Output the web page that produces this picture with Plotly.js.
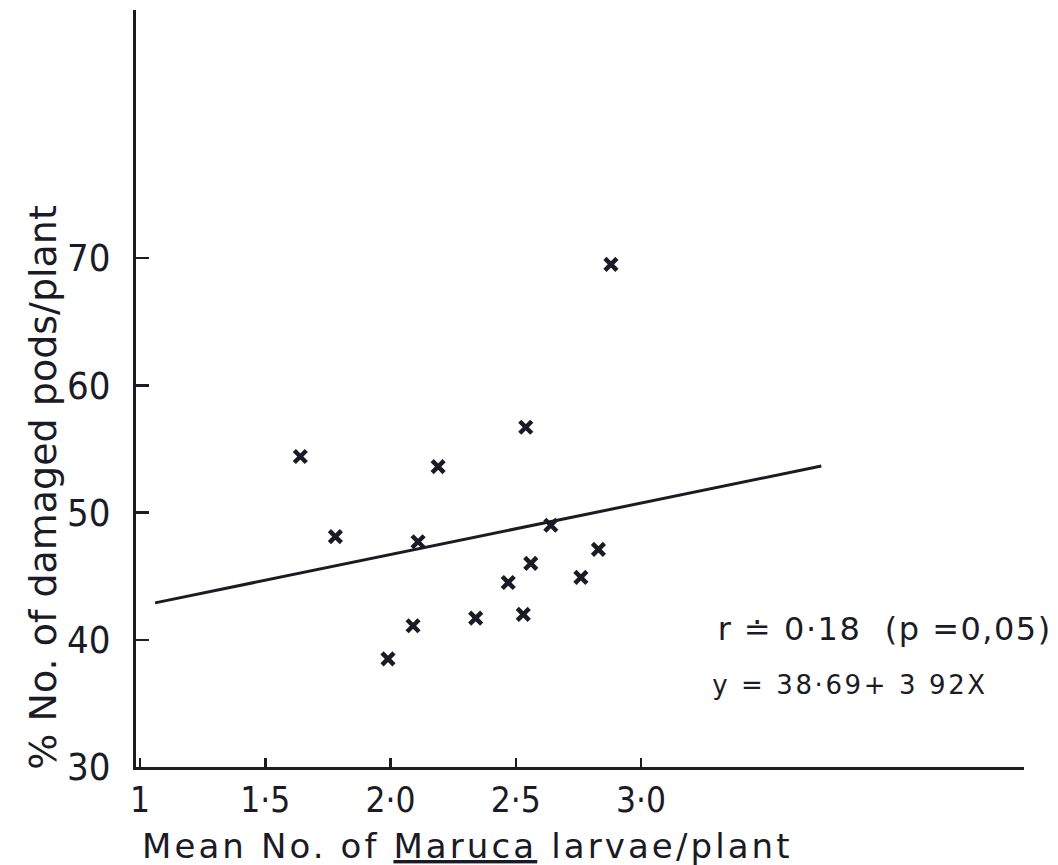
<!DOCTYPE html>
<html>
<head>
<meta charset="utf-8">
<script src="https://cdn.plot.ly/plotly-3.0.1.min.js"></script>
<style>
  html, body { margin: 0; padding: 0; background: #ffffff; }
  #chart { width: 1058px; height: 865px; }
  g.annotation[data-index="1"] text { letter-spacing: 3.1px; }
  g.annotation[data-index="2"] text { letter-spacing: 1.5px; }
  g.annotation[data-index="3"] text { letter-spacing: 2.6px; }
</style>
</head>
<body>
<div id="chart"></div>
<script>
// ---- data ----
const larvae = [1.64, 1.78, 2.11, 2.19, 2.54, 2.64, 2.83, 2.56, 2.47, 2.76, 2.09, 2.34, 2.53, 1.99, 2.88];
const damagedPods = [54.4, 48.1, 47.7, 53.6, 56.7, 49.0, 47.1, 46.0, 44.5, 44.9, 41.1, 41.7, 42.0, 38.5, 69.5];

const fitX = [1.06, 3.72];
const fitY = [42.9, 53.65];

const xTickVals = [1, 1.5, 2, 2.5, 3];
const xTickText = ["1", "1·5", "2·0", "2·5", "3·0"];
const yTickVals = [30, 40, 50, 60, 70];
const yTickText = ["30", "40", "50", "60", "70"];

const statLine1 = "r ≐ 0·18\u00a0\u00a0(p =0,05)";
const statLine2 = "y = 38·69+ 3 92X";
const xTitle = "Mean No. of <u>Maruca</u> larvae/plant";
const yTitle = "% No. of damaged pods/plant";

// ---- styling ----
const ink = "#1b1b26";
const NARROW = "'DejaVu Sans Condensed', 'Liberation Sans Narrow', 'DejaVu Sans', sans-serif";
const WIDE = "'DejaVu Sans', 'Liberation Sans', sans-serif";

const traces = [
  {
    x: fitX, y: fitY, type: "scatter", mode: "lines",
    line: { color: ink, width: 3 },
    hoverinfo: "skip", showlegend: false
  },
  {
    x: larvae, y: damagedPods, type: "scatter", mode: "markers",
    marker: { symbol: "x-thin-open", size: 12, color: ink, line: { color: ink, width: 4.5 } },
    showlegend: false
  }
];

const layout = {
  width: 1058, height: 865,
  margin: { l: 136, r: 34, t: 10, b: 98 },
  paper_bgcolor: "#ffffff", plot_bgcolor: "#ffffff",
  showlegend: false,
  font: { family: NARROW, color: ink },
  xaxis: {
    range: [0.984, 4.529],
    showgrid: false, zeroline: false,
    showline: true, linecolor: ink, linewidth: 3,
    ticks: "inside", ticklen: 9, tickwidth: 2.5, tickcolor: ink,
    tickvals: xTickVals, ticktext: xTickText,
    tickfont: { family: NARROW, size: 35, color: ink },
    ticklabelstandoff: 0
  },
  yaxis: {
    range: [30, 89.49],
    showgrid: false, zeroline: false,
    showline: true, linecolor: ink, linewidth: 3,
    ticks: "inside", ticklen: 13, tickwidth: 2.5, tickcolor: ink,
    tickvals: yTickVals, ticktext: yTickText,
    tickfont: { family: NARROW, size: 38, color: ink },
    ticklabelstandoff: 15
  },
  annotations: [
    {
      text: yTitle, xref: "paper", yref: "paper",
      x: -0.105, y: 0.37, xanchor: "center", yanchor: "middle",
      textangle: -90, showarrow: false,
      font: { family: WIDE, size: 38, color: ink }
    },
    {
      text: xTitle, xref: "paper", yref: "paper",
      x: 0.0586, y: -0.105, xanchor: "left", yanchor: "middle",
      showarrow: false,
      font: { family: WIDE, size: 34, color: ink }
    },
    {
      text: statLine1, xref: "paper", yref: "paper",
      x: 0.669, y: 0.182, xanchor: "left", yanchor: "middle",
      showarrow: false,
      font: { family: WIDE, size: 32, color: ink }
    },
    {
      text: statLine2, xref: "paper", yref: "paper",
      x: 0.6706, y: 0.108, xanchor: "left", yanchor: "middle",
      showarrow: false,
      font: { family: WIDE, size: 26, color: ink }
    }
  ]
};

Plotly.newPlot("chart", traces, layout, { staticPlot: true, displayModeBar: false });
</script>
</body>
</html>
